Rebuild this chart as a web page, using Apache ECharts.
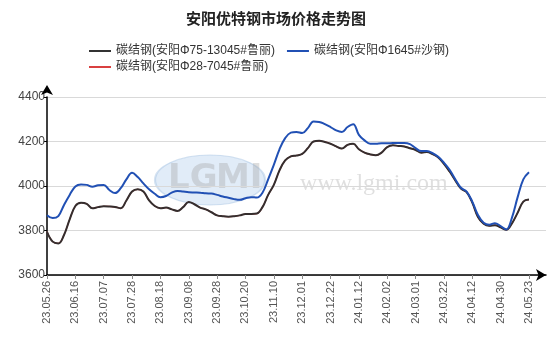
<!DOCTYPE html>
<html>
<head>
<meta charset="utf-8">
<script src="https://cdn.jsdelivr.net/npm/echarts@6/dist/echarts.min.js"></script>
<style>
  html, body { margin: 0; padding: 0; background: #fff; }
  #main { width: 554px; height: 354px; }
</style>
</head>
<body>
<div id="main"></div>
<script>
// 刻度标签(每15个交易日一个)
var tickLabels = ['23.05.26','23.06.16','23.07.07','23.07.28','23.08.18','23.09.08',
  '23.09.28','23.10.20','23.11.10','23.12.01','23.12.22','24.01.12','24.02.02',
  '24.03.01','24.03.22','24.04.12','24.04.30','24.05.23'];
var pointsPerLabel = 5;   // 每个刻度之间取5个点(约3个交易日一个)

// 碳结钢(安阳Φ75-13045#鲁丽)
var luli75 = [3794,3750,3742,3780,3850,3910,3925,3920,3900,3905,
  3909,3908,3906,3900,3935,3975,3985,3975,3935,3910,
  3900,3903,3895,3888,3905,3928,3918,3903,3895,3882,
  3868,3864,3862,3864,3868,3874,3874,3876,3905,3960,
  4005,4070,4115,4133,4137,4144,4170,4200,4203,4198,
  4190,4178,4168,4185,4190,4165,4150,4142,4138,4150,
  4175,4183,4180,4178,4170,4162,4150,4153,4143,4128,
  4100,4065,4025,3988,3972,3925,3860,3830,3821,3824,
  3814,3803,3832,3880,3930,3939];
// 碳结钢(安阳Φ28-7045#鲁丽)
var luli28 = [3794,3750,3742,3780,3850,3910,3925,3920,3900,3905,
  3909,3908,3906,3900,3935,3975,3985,3975,3935,3910,
  3900,3903,3895,3888,3905,3928,3918,3903,3895,3882,
  3868,3864,3862,3864,3868,3874,3874,3876,3905,3960,
  4005,4070,4115,4133,4137,4144,4170,4200,4203,4198,
  4190,4178,4168,4185,4190,4165,4150,4142,4138,4150,
  4175,4183,4180,4178,4170,4162,4150,4153,4143,4128,
  4100,4065,4025,3988,3972,3925,3860,3830,3821,3824,
  3814,3803,3832,3880,3930,3939];
// 碳结钢(安阳Φ1645#沙钢)
var shagang = [3869,3856,3865,3915,3960,3998,4007,4005,3997,4003,
  4005,3982,3968,3990,4030,4060,4040,4012,3985,3965,
  3950,3955,3970,3978,3975,3972,3971,3970,3967,3966,
  3960,3953,3947,3941,3938,3945,3950,3948,3970,4030,
  4095,4165,4215,4240,4243,4238,4260,4290,4288,4278,
  4265,4250,4243,4265,4278,4230,4205,4190,4190,4192,
  4192,4193,4193,4193,4188,4170,4157,4157,4148,4131,
  4105,4073,4030,3992,3975,3930,3870,3835,3826,3833,
  3820,3805,3858,3950,4030,4062];

var names = ['碳结钢(安阳Φ75-13045#鲁丽)','碳结钢(安阳Φ1645#沙钢)','碳结钢(安阳Φ28-7045#鲁丽)'];

// 类目:刻度处放日期,中间点留空,末尾多留3格给箭头
var cats = [];
for (var i = 0; i < (tickLabels.length - 1) * pointsPerLabel + 1; i++) {
  cats.push(i % pointsPerLabel === 0 ? tickLabels[i / pointsPerLabel] : '');
}
cats.push('', '', '');

var font = "'Liberation Sans', 'Noto Sans CJK SC', sans-serif";

var myChart = echarts.init(document.getElementById('main'));
var option = {
  animation: false,
  title: {
    text: '安阳优特钢市场价格走势图',
    left: 271, top: 6, textAlign: 'center',
    textStyle: { fontSize: 15, fontWeight: 'bold', color: '#222', fontFamily: "'Noto Sans CJK SC', sans-serif" }
  },
  legend: [{
    data: [names[0], names[1]],
    left: 84, top: 40, itemWidth: 22, itemHeight: 2, itemGap: 12, icon: 'rect',
    textStyle: { fontSize: 12, color: '#333', fontFamily: font }
  }, {
    data: [names[2]],
    left: 84, top: 56, itemWidth: 22, itemHeight: 2, icon: 'rect',
    textStyle: { fontSize: 12, color: '#333', fontFamily: font }
  }],
  grid: { left: 47, right: 8, top: 97, bottom: 79 },
  graphic: [{
    type: 'circle', z: -10, silent: true,
    shape: { cx: 0, cy: 0, r: 50 },
    x: 210, y: 180, scaleX: 1.1, scaleY: 0.5,
    style: { fill: 'rgba(170,200,235,0.35)', stroke: 'rgba(160,190,225,0.45)', lineWidth: 2 }
  }, {
    type: 'text', z: -9, silent: true,
    x: 168, y: 162,
    style: { text: 'LG', fill: 'rgba(160,160,160,0.35)', font: 'bold 34px "DejaVu Sans", sans-serif' }
  }, {
    type: 'text', z: -9, silent: true,
    x: 216, y: 162,
    style: { text: 'MI', fill: 'rgba(160,160,160,0.35)', font: 'bold 34px "DejaVu Sans", sans-serif' }
  }, {
    type: 'text', z: -9, silent: true,
    x: 300, y: 172,
    style: { text: 'www.lgmi.com', fill: 'rgba(150,150,150,0.3)', font: '24px "Liberation Serif", "DejaVu Serif", serif' }
  }],
  xAxis: {
    type: 'category',
    data: cats,
    boundaryGap: false,
    axisLine: { lineStyle: { color: '#000', width: 1.5 }, symbol: ['none', 'arrow'], symbolSize: [9, 10] },
    axisTick: { interval: pointsPerLabel - 1, length: 4, lineStyle: { color: '#888' } },
    axisLabel: { interval: pointsPerLabel - 1, rotate: 90, margin: 6, fontSize: 11, color: '#555', fontFamily: font }
  },
  yAxis: {
    type: 'value',
    min: 3600, max: 4400, interval: 200,
    axisLine: { show: true, lineStyle: { color: '#000', width: 1.5 }, symbol: ['none', 'arrow'], symbolSize: [9, 10], symbolOffset: [0, 12] },
    axisTick: { show: true, length: 3, lineStyle: { color: '#000' } },
    axisLabel: { margin: 2, fontSize: 12, color: '#444', fontFamily: font, formatter: function (v) { return String(v); } },
    splitLine: { lineStyle: { color: '#d9d9d9' } }
  },
  series: [{
    name: names[2], type: 'line', data: luli28, smooth: 0.4, showSymbol: false,
    itemStyle: { color: '#d94040' }, lineStyle: { width: 1.2, color: '#d94040' }, z: 2
  }, {
    name: names[0], type: 'line', data: luli75, smooth: 0.4, showSymbol: false,
    itemStyle: { color: '#333333' }, lineStyle: { width: 2, color: '#352e2e' }, z: 3
  }, {
    name: names[1], type: 'line', data: shagang, smooth: 0.4, showSymbol: false,
    itemStyle: { color: '#2150b4' }, lineStyle: { width: 2, color: '#2150b4' }, z: 4
  }]
};
myChart.setOption(option);
</script>
</body>
</html>
